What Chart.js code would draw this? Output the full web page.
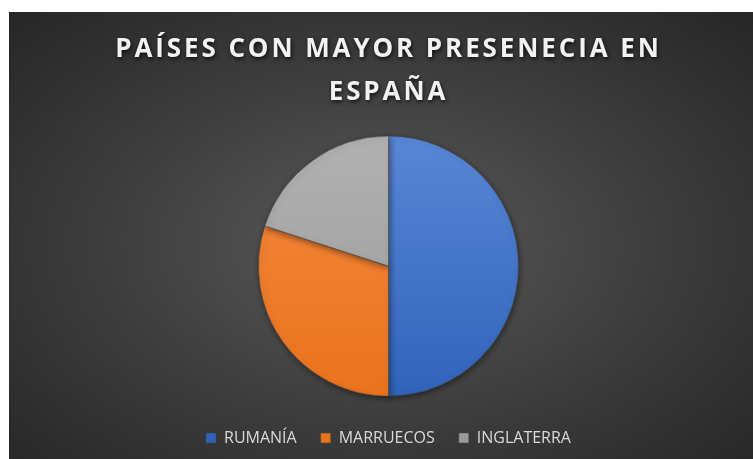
<!DOCTYPE html>
<html lang="es">
<head>
  <meta charset="UTF-8">
  <title>Países con mayor presencia en España</title>
  <script src="https://cdn.jsdelivr.net/npm/chart.js"></script>
  <style>
    html, body { margin: 0; padding: 0; background: #ffffff; }
    .chart-box {
      position: absolute;
      left: 9px;
      top: 12px;
      width: 744px;
      height: 447px;
      background: radial-gradient(ellipse at 50% 52%, #5a5a5a 0%, #3c3c3c 55%, #262626 100%);
    }
  </style>
</head>
<body>
  <div class="chart-box">
    <canvas id="pieChart"></canvas>
  </div>

  <script>
    // Datos
    const paises = ['RUMANÍA', 'MARRUECOS', 'INGLATERRA'];
    const valores = [50, 30, 20];
    const tituloLineas = ['PAÍSES CON MAYOR PRESENECIA EN', 'ESPAÑA'];

    // Colores: arriba / abajo de cada porción
    const coloresArriba = ['#5b88d8', '#f58a3e', '#b2b2b2'];
    const coloresAbajo = ['#2e62b9', '#e9721c', '#9a9a9a'];

    function degradado(ctx) {
      const chart = ctx.chart;
      const area = chart.chartArea;
      if (!area) return coloresArriba[ctx.dataIndex];
      const g = chart.ctx.createLinearGradient(0, area.top, 0, area.bottom);
      g.addColorStop(0, coloresArriba[ctx.dataIndex]);
      g.addColorStop(1, coloresAbajo[ctx.dataIndex]);
      return g;
    }

    // Espaciado y sombra del título
    const efectoTitulo = {
      id: 'efectoTitulo',
      afterInit(chart) {
        const tb = chart.titleBlock;
        if (!tb) return;
        const original = tb.draw.bind(tb);
        tb.draw = function () {
          const c = chart.ctx;
          c.save();
          c.letterSpacing = '2.9px';
          c.shadowColor = 'rgba(0,0,0,0.75)';
          c.shadowBlur = 4;
          c.shadowOffsetX = 1;
          c.shadowOffsetY = 2;
          original();
          c.restore();
        };
      }
    };

    // Sombra suave del pastel
    const sombraPastel = {
      id: 'sombraPastel',
      beforeDatasetsDraw(chart) {
        const c = chart.ctx;
        c.save();
        c.shadowColor = 'rgba(0,0,0,0.45)';
        c.shadowBlur = 6;
        c.shadowOffsetX = 1;
        c.shadowOffsetY = 2;
      },
      afterDatasetsDraw(chart) {
        chart.ctx.restore();
      }
    };

    new Chart(document.getElementById('pieChart').getContext('2d'), {
      type: 'pie',
      data: {
        labels: paises,
        datasets: [{
          data: valores,
          backgroundColor: degradado,
          borderColor: 'rgba(70,70,70,0.5)',
          borderWidth: 1,
          radius: 130
        }]
      },
      options: {
        responsive: true,
        maintainAspectRatio: false,
        animation: false,
        layout: {
          padding: { left: 15, right: 0, top: 0, bottom: 3 }
        },
        plugins: {
          title: {
            display: true,
            text: tituloLineas,
            color: '#f2f2f2',
            font: { family: 'Open Sans', size: 26, weight: 'bold', lineHeight: 1.62 },
            padding: { top: 17, bottom: 13 }
          },
          legend: {
            position: 'bottom',
            labels: {
              color: '#d9d9d9',
              font: { family: 'Open Sans', size: 16 },
              boxWidth: 10,
              boxHeight: 10,
              padding: 24
            }
          },
          tooltip: { enabled: false }
        }
      },
      plugins: [efectoTitulo, sombraPastel]
    });
  </script>
</body>
</html>
